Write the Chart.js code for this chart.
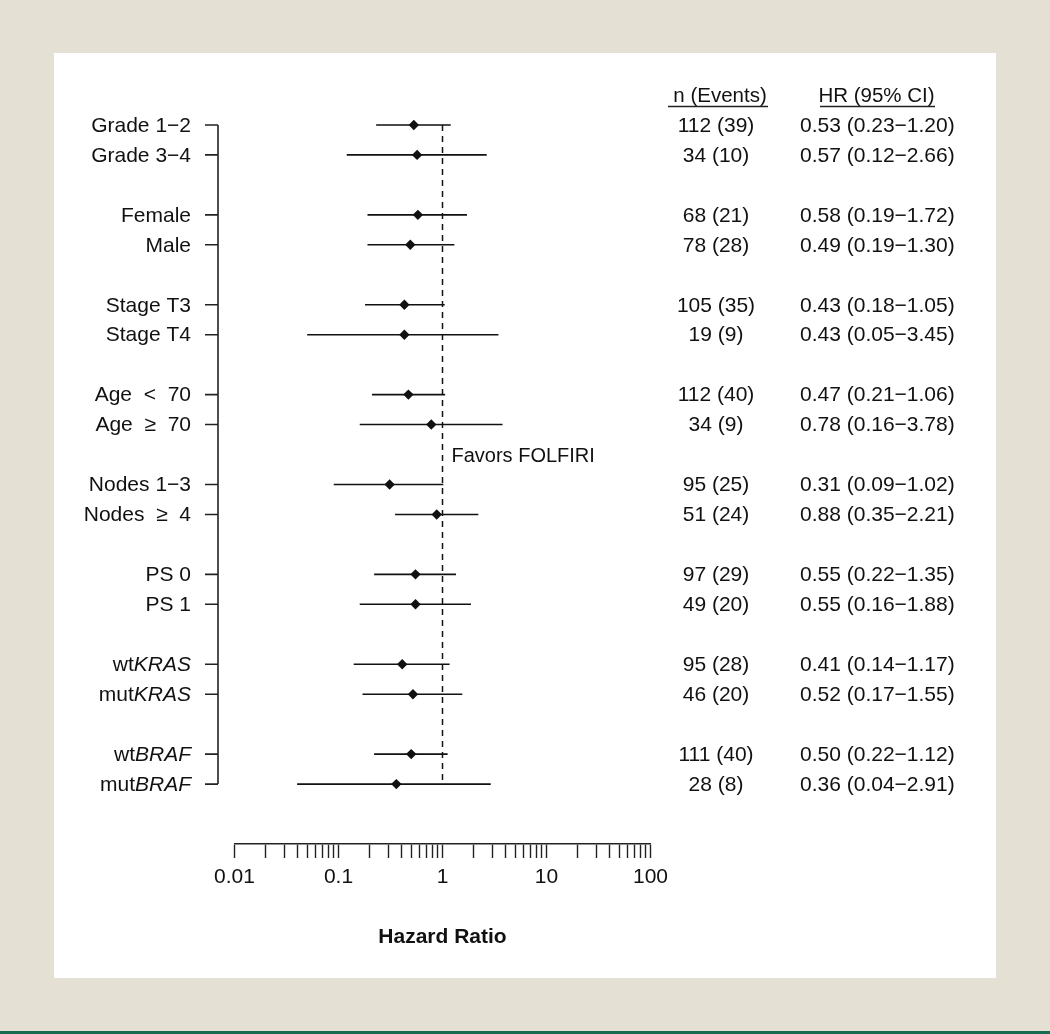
<!DOCTYPE html>
<html>
<head>
<meta charset="utf-8">
<script src="https://cdn.jsdelivr.net/npm/chart.js@4/dist/chart.umd.min.js"></script>
<style>
  html, body { margin: 0; padding: 0; }
  body { width: 1050px; height: 1034px; background: #e4e0d4; position: relative; overflow: hidden; }
  #panel { position: absolute; left: 54px; top: 53px; width: 942px; height: 925px; background: #ffffff; }
  #rule { position: absolute; left: 0; top: 1031px; width: 1050px; height: 3px; background: #17694f; }
  #wrap { position: absolute; left: 0; top: 0; width: 1050px; height: 1034px; }
</style>
</head>
<body>
<div id="panel"></div>
<div id="rule"></div>
<div id="wrap"><canvas id="c" width="1050" height="1034"></canvas></div>
<script>
// ---- data ----
const rowLabels = ["Grade 1\u22122", "Grade 3\u22124", "Female", "Male", "Stage T3", "Stage T4",
  "Age  <  70", "Age  \u2265  70", "Nodes 1\u22123", "Nodes  \u2265  4", "PS 0", "PS 1",
  "wt|KRAS", "mut|KRAS", "wt|BRAF", "mut|BRAF"];
const nPatients = [112, 34, 68, 78, 105, 19, 112, 34, 95, 51, 97, 49, 95, 46, 111, 28];
const nEvents   = [39, 10, 21, 28, 35, 9, 40, 9, 25, 24, 29, 20, 28, 20, 40, 8];
const hazardRatio = [0.53, 0.57, 0.58, 0.49, 0.43, 0.43, 0.47, 0.78, 0.31, 0.88, 0.55, 0.55, 0.41, 0.52, 0.50, 0.36];
const ciLower   = [0.23, 0.12, 0.19, 0.19, 0.18, 0.05, 0.21, 0.16, 0.09, 0.35, 0.22, 0.16, 0.14, 0.17, 0.22, 0.04];
const ciUpper   = [1.20, 2.66, 1.72, 1.30, 1.05, 3.45, 1.06, 3.78, 1.02, 2.21, 1.35, 1.88, 1.17, 1.55, 1.12, 2.91];
const majorTicks = [0.01, 0.1, 1, 10, 100];
const majorTickLabels = ["0.01", "0.1", "1", "10", "100"];
const referenceHR = 1;
const xAxisTitle = "Hazard Ratio";
const colHeaders = ["n (Events)", "HR (95% CI)"];
const favorsText = "Favors FOLFIRI";

// row slot: pairs of subgroups separated by one empty slot
const rowSlot = rowLabels.map((_, i) => i + Math.floor(i / 2));
const lastSlot = rowSlot[rowSlot.length - 1];

// minor tick values between the decades
const tickValues = [];
for (let k = 0; k < majorTicks.length - 1; k++) {
  for (let m = 1; m < 10; m++) tickValues.push(+(majorTicks[k] * m).toPrecision(6));
}
tickValues.push(majorTicks[majorTicks.length - 1]);

const FONT = "'Liberation Sans', Arial, Helvetica, sans-serif";
const INK = '#111111';

const pointData = hazardRatio.map((v, i) => ({ x: v, y: rowSlot[i] }));
const ciData = [];
ciLower.forEach((lo, i) => {
  ciData.push({ x: lo, y: rowSlot[i] });
  ciData.push({ x: ciUpper[i], y: rowSlot[i] });
  ciData.push({ x: ciUpper[i], y: null });
});
const refData = [{ x: referenceHR, y: rowSlot[0] }, { x: referenceHR, y: lastSlot }];

const fmt = v => v.toFixed(2);

const annotate = {
  id: 'annotate',
  afterDatasetsDraw(chart) {
    const { ctx } = chart;
    const ys = chart.scales.y, xs = chart.scales.x;
    ctx.save();
    // left bracket axis
    const axX = 218, tickL = 13;
    ctx.strokeStyle = '#222222';
    ctx.lineWidth = 1.6;
    ctx.beginPath();
    ctx.moveTo(axX, ys.getPixelForValue(rowSlot[0]));
    ctx.lineTo(axX, ys.getPixelForValue(lastSlot));
    rowSlot.forEach(s => {
      const py = ys.getPixelForValue(s);
      ctx.moveTo(axX - tickL, py);
      ctx.lineTo(axX, py);
    });
    ctx.stroke();

    // row labels (with italic gene names)
    ctx.fillStyle = INK;
    ctx.textBaseline = 'middle';
    const fs = 21;
    rowLabels.forEach((lab, i) => {
      const py = ys.getPixelForValue(rowSlot[i]) + 1;
      const parts = lab.split('|');
      const right = 191;
      if (parts.length === 1) {
        ctx.font = fs + 'px ' + FONT;
        ctx.textAlign = 'right';
        ctx.fillText(lab, right, py);
      } else {
        ctx.font = 'italic ' + fs + 'px ' + FONT;
        const wI = ctx.measureText(parts[1]).width;
        ctx.textAlign = 'right';
        ctx.fillText(parts[1], right, py);
        ctx.font = fs + 'px ' + FONT;
        ctx.fillText(parts[0], right - wI, py);
      }
    });

    // table columns
    ctx.font = fs + 'px ' + FONT;
    rowLabels.forEach((_, i) => {
      const py = ys.getPixelForValue(rowSlot[i]) + 1;
      ctx.textAlign = 'center';
      ctx.fillText(nPatients[i] + ' (' + nEvents[i] + ')', 716, py);
      ctx.textAlign = 'left';
      ctx.fillText(fmt(hazardRatio[i]) + ' (' + fmt(ciLower[i]) + '\u2212' + fmt(ciUpper[i]) + ')', 800, py);
    });

    // headers
    ctx.font = '20.5px ' + FONT;
    ctx.textAlign = 'center';
    ctx.textBaseline = 'alphabetic';
    ctx.fillText(colHeaders[0], 720, 102);
    ctx.fillText(colHeaders[1], 876.5, 102);
    ctx.lineWidth = 1.5;
    ctx.beginPath();
    ctx.moveTo(668, 106.5); ctx.lineTo(768, 106.5);
    ctx.moveTo(820, 106.5); ctx.lineTo(935, 106.5);
    ctx.stroke();

    // favors text
    ctx.font = '20px ' + FONT;
    ctx.textAlign = 'left';
    ctx.textBaseline = 'middle';
    ctx.fillText(favorsText, xs.getPixelForValue(referenceHR) + 9, ys.getPixelForValue(rowSlot[7] + 1) + 2);
    ctx.restore();
  }
};

new Chart(document.getElementById('c'), {
  type: 'scatter',
  data: {
    datasets: [
      { label: 'ref', data: refData, showLine: true, borderColor: INK, borderWidth: 1.5,
        borderDash: [6, 5], pointRadius: 0, order: 3 },
      { label: 'CI', data: ciData, showLine: true, spanGaps: false, borderColor: INK, borderWidth: 1.6,
        pointRadius: 0, order: 2 },
      { label: 'HR', data: pointData, pointStyle: 'rectRot', pointRadius: 5.2, pointHoverRadius: 5.2,
        backgroundColor: INK, borderColor: INK, borderWidth: 0, order: 1 }
    ]
  },
  options: {
    responsive: false,
    animation: false,
    events: [],
    layout: { padding: { left: 234.5, right: 399.5, top: 95, bottom: 82 } },
    plugins: { legend: { display: false }, tooltip: { enabled: false } },
    scales: {
      x: {
        type: 'logarithmic',
        position: 'bottom',
        min: majorTicks[0],
        max: majorTicks[majorTicks.length - 1],
        afterBuildTicks(scale) { scale.ticks = tickValues.map(v => ({ value: v, major: majorTicks.includes(v) })); },
        afterFit(scale) { scale.height = 108; },
        ticks: {
          autoSkip: false, maxRotation: 0, minRotation: 0, padding: 7,
          color: INK, font: { family: FONT, size: 21 },
          callback(value) {
            const k = majorTicks.findIndex(m => Math.abs(m - value) / m < 1e-6);
            return k >= 0 ? majorTickLabels[k] : '';
          }
        },
        grid: { display: true, drawOnChartArea: false, drawTicks: true, tickLength: 14,
                tickColor: '#222222', tickWidth: 1.4, color: '#222222' },
        border: { display: true, color: '#222222', width: 1.6 },
        title: { display: true, text: xAxisTitle, color: INK, padding: { top: 0, bottom: 2 },
                 font: { family: FONT, size: 21, weight: 'bold' } }
      },
      y: {
        type: 'linear', reverse: true, min: -1, max: lastSlot + 2, display: false
      }
    }
  },
  plugins: [annotate]
});
</script>
</body>
</html>
